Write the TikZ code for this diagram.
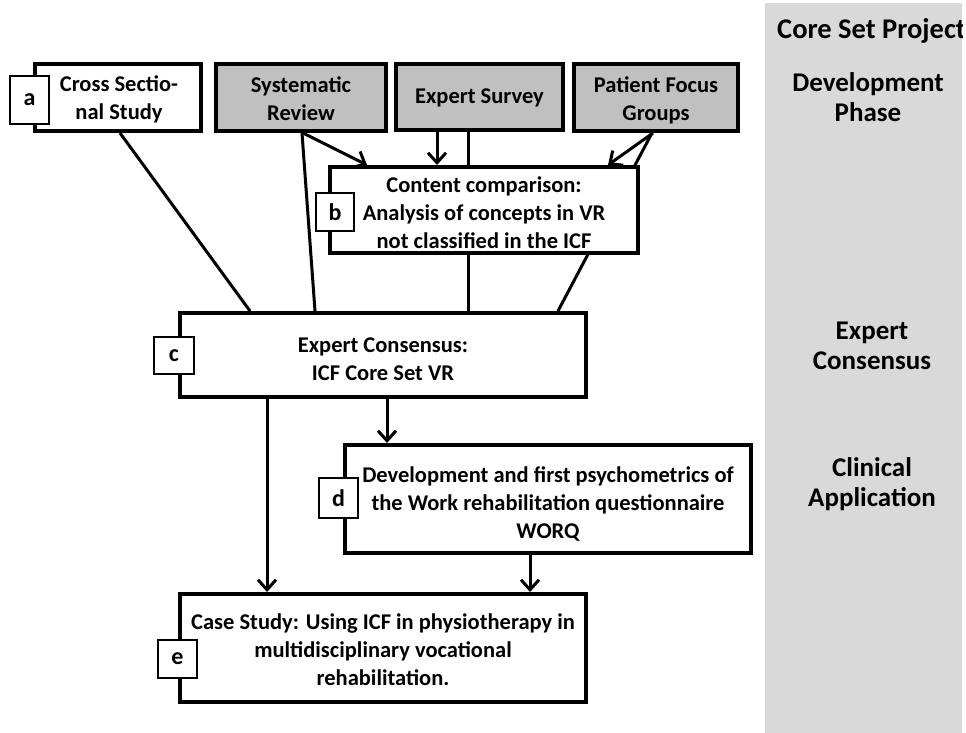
\documentclass[tikz,border=0pt]{standalone}
\usepackage{fontspec}
\setmainfont{Carlito}
\usetikzlibrary{arrows.meta,calc,backgrounds}
\definecolor{panelgray}{HTML}{D9D9D9}
\definecolor{srcgray}{HTML}{C0C0C0}
\newcommand{\boxfont}{\fontsize{22.5}{28}\selectfont\bfseries}
\newcommand{\tagfont}{\fontsize{24}{28}\selectfont\bfseries}
\newcommand{\phasefont}{\fontsize{27}{30}\selectfont\bfseries}
\newcommand{\headfont}{\fontsize{28.5}{30}\selectfont\bfseries}
\begin{document}
\begin{tikzpicture}[x=1pt,y=-1pt,
  stagebox/.style={draw, line width=4.2pt, fill=white, inner sep=0pt},
  srcbox/.style={stagebox, fill=srcgray},
  stagetext/.style={align=center, inner sep=0pt, font=\boxfont},
  tag/.style={draw, line width=2.3pt, fill=white, inner sep=0pt,
    font=\tagfont},
  link/.style={line width=3pt},
  flow/.style={link, -{Straight Barb[length=10pt,width=18pt,line width=3pt]}},
  phase/.style={align=center, font=\phasefont, inner sep=0pt}]
\useasboundingbox (0,0) rectangle (966,733);

% phase column on the right
\fill[panelgray] (765,3) rectangle (962,733);
\begin{scope}
  \clip (765,3) rectangle (962,733);
  \node[phase, font=\headfont, anchor=west] (core) at (777,31) {Core Set Project};
\end{scope}
\node[phase] (dev) at (868,97) {Development\\Phase};
\node[phase] (cons) at (872,346) {Expert\\Consensus};
\node[phase] (clin) at (872,484) {Clinical\\Application};

% source studies
\node[stagebox, minimum width=165.8pt, minimum height=66.8pt] (a) at (118,97.5) {};
\node[srcbox, minimum width=169.8pt, minimum height=66.8pt] (sr) at (301,97.5) {};
\node[srcbox, minimum width=166.8pt, minimum height=65.8pt] (es) at (479.5,97) {};
\node[srcbox, minimum width=163.8pt, minimum height=66.8pt] (pfg) at (656,97.5) {};

% consecutive stages
\node[stagebox, minimum width=307.8pt, minimum height=85.8pt] (b) at (484,210) {};
\node[stagebox, minimum width=405.8pt, minimum height=83.8pt] (c) at (383,355) {};
\node[stagebox, minimum width=405.8pt, minimum height=107.8pt] (d) at (548,499) {};
\node[stagebox, minimum width=405.8pt, minimum height=107.8pt] (e) at (383,648) {};

% box texts
\node[stagetext] (at) at ($(a)+(1,2)$) {Cross Sectio-\\nal Study};
\node[stagetext] (srt) at ($(sr)+(0,1.5)$) {Systematic\\Review};
\node[stagetext] (est) at ($(es)+(0,0.5)$) {Expert Survey};
\node[stagetext] (pfgt) at ($(pfg)+(0,2.5)$) {Patient Focus\\Groups};
\node[stagetext] (bt) at ($(b)+(0,3)$) {Content comparison:\\Analysis of concepts in VR\\not classified in the ICF};
\node[stagetext] (ct) at ($(c)+(0,4)$) {Expert Consensus:\\ICF Core Set VR};
\node[stagetext] (dt) at ($(d)+(0,4.5)$) {Development and first psychometrics of\\the Work rehabilitation questionnaire\\WORQ};
\node[stagetext] (et) at ($(e)+(0,2)$) {Case Study: Using ICF in physiotherapy in\\multidisciplinary vocational\\rehabilitation.};

% connectors passing behind the content comparison box
\begin{scope}[on background layer]
  \draw[link] ($(es.south)+(-11.5,0)$) -- ($(c.north)+(85,0)$);
  \draw[link] ($(pfg.south)+(-4,0)$) -- ($(c.north)+(175,0)$);
\end{scope}

% letter tags
\node[tag, minimum width=38.7pt, minimum height=47.7pt] (ta) at (29.5,100) {a};
\node[tag, minimum width=37.7pt, minimum height=37.7pt] (tb) at (335,212) {b};
\node[tag, minimum width=39.7pt, minimum height=36.7pt] (tc) at (174,355.5) {c};
\node[tag, minimum width=38.7pt, minimum height=39.7pt] (td) at (338.5,498) {d};
\node[tag, minimum width=38.7pt, minimum height=37.7pt] (te) at (177.5,659) {e};

% connectors
\draw[link] ($(a.south)+(2,0)$) -- ($(c.north)+(-133,0)$);
\draw[link] ($(sr.south)+(1,0)$) -- ($(c.north)+(-68,0)$);
\draw[flow] ($(sr.south)+(2,0)$) -- ($(b.north)+(-117,0)$);
\draw[flow] ($(es.south)+(-42.5,0)$) -- ($(b.north)+(-47,0)$);
\draw[flow] ($(pfg.south)+(-3,0)$) -- ($(b.north)+(124,0)$);
\draw[flow] ($(c.south)+(-116,0)$) -- ($(e.north)+(-116,0)$);
\draw[flow] ($(c.south)+(4,0)$) -- ($(d.north)+(-161,0)$);
\draw[flow] ($(d.south)+(-18,0)$) -- ($(e.north)+(147,0)$);
\end{tikzpicture}
\end{document}
